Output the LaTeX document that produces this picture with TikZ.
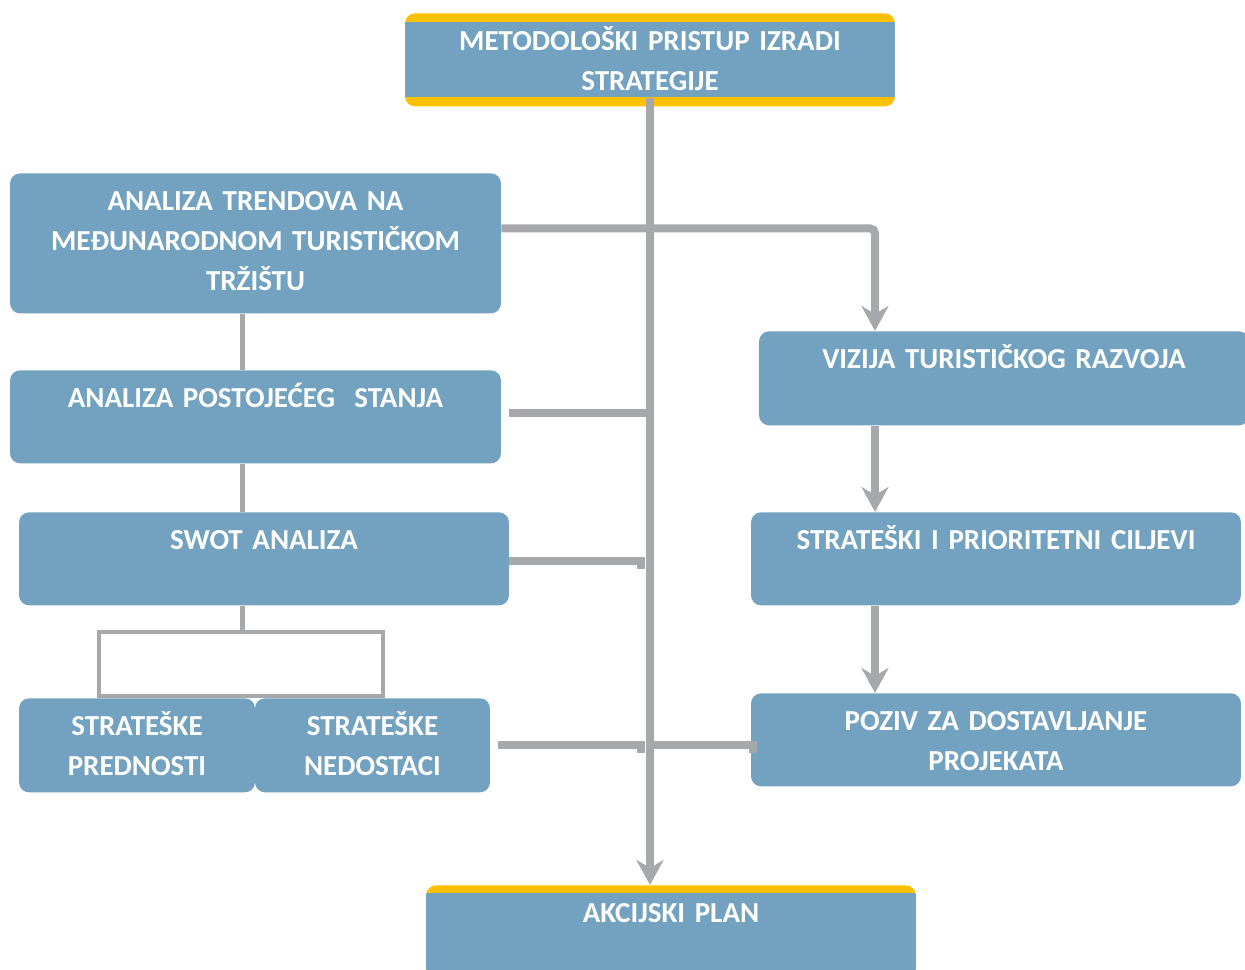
\documentclass[tikz,border=0pt]{standalone}
\usepackage{fontspec}
\setmainfont{Carlito}
\usetikzlibrary{arrows.meta}

\definecolor{boxblue}{HTML}{72A2C0}
\definecolor{boxyellow}{HTML}{FFC000}
\definecolor{lgray}{HTML}{A7A8AC}

\tikzset{
  box/.style={fill=boxblue, rounded corners=0.2cm, anchor=north, align=center,
    text=white, font=\bfseries\fontsize{16.5}{22.8}\selectfont,
    inner xsep=0.1cm, inner ysep=0.34cm, text height=0.4cm, text depth=0.78cm},
  goldbox/.style={box, fill=boxyellow},
  conn/.style={draw=lgray, line width=0.16cm},
  thinconn/.style={draw=lgray, line width=0.1cm},
  bracket/.style={draw=lgray, line width=0.08cm, minimum width=5.68cm,
    minimum height=1.28cm, anchor=south, inner sep=0pt},
}

\begin{document}
\begin{tikzpicture}[x=0.02cm,y=-0.02cm,
    >={Stealth[length=0.5cm,width=0.54cm,inset=0.16cm]}]
  \useasboundingbox (0,0) rectangle (1245,970);

  % ------ boxes ---------------
  \node[goldbox, minimum width=9.8cm, text width=9.6cm,
    path picture={\fill[boxblue, sharp corners] ([yshift=-0.18cm]path picture bounding box.north west)
      rectangle ([yshift=0.18cm]path picture bounding box.south east);}]
    (top) at (650,13) {METODOLOŠKI PRISTUP IZRADI\\STRATEGIJE};

  \node[box, minimum width=9.82cm, text width=9.6cm, text depth=1.72cm]
    (trend) at (255.5,173) {ANALIZA TRENDOVA NA\\MEĐUNARODNOM TURISTIČKOM\\TRŽIŠTU};
  \node[box, minimum width=9.82cm, text width=9.6cm] (post) at (255.5,370)
    {ANALIZA POSTOJEĆEG~ STANJA};
  \node[box, minimum width=9.8cm, text width=9.6cm] (swot) at (264,512) {SWOT ANALIZA};
  \node[box, minimum width=4.72cm, text width=4.5cm, text depth=0.8cm] (pred) at (137,698)
    {STRATEŠKE\\PREDNOSTI};
  \node[box, minimum width=4.7cm, text width=4.5cm, text depth=0.8cm] (ned) at (372.5,698)
    {STRATEŠKE\\NEDOSTACI};

  \node[box, minimum width=9.8cm, text width=9.6cm, text depth=0.8cm] (viz) at (1004,331)
    {VIZIJA TURISTIČKOG RAZVOJA};
  \node[box, minimum width=9.8cm, text width=9.6cm] (cilj) at (996,512)
    {STRATEŠKI I PRIORITETNI CILJEVI};
  \node[box, minimum width=9.8cm, text width=9.6cm] (poziv) at (996,693)
    {POZIV ZA DOSTAVLJANJE\\PROJEKATA};

  \node[goldbox, minimum width=9.8cm, text width=9.6cm,
    path picture={\fill[boxblue, sharp corners] ([yshift=-0.16cm]path picture bounding box.north west)
      rectangle (path picture bounding box.south east);}]
    (akc) at (671,885) {AKCIJSKI PLAN};

  \node[bracket] (br) at (241,698) {};

  % ------ connectors ---------------
  \coordinate (lx) at (242,0);
  \coordinate (rx) at (875,0);
  \coordinate (hk) at (641,0);

  \draw[conn, ->, shorten <=-0.18cm] (top.south) -- (top.south |- akc.north);
  \draw[conn, ->, rounded corners=0.1cm] ([yshift=0.3cm]trend.east) -| (rx |- viz.north);
  \draw[conn, ->] (rx |- viz.south) -- (rx |- cilj.north);
  \draw[conn, ->] (rx |- cilj.south) -- (rx |- poziv.north);

  \draw[conn, shorten <=0.16cm] ([yshift=0.07cm]post.east) -- ([yshift=0.07cm]post.east -| top.south);
  \draw[conn] ([yshift=-0.04cm]swot.east) -- ([yshift=-0.04cm]swot.east -| hk) -- ++(0,-0.16cm);
  \draw[conn, shorten <=0.16cm] (ned.east) -- (ned.east -| hk) -- ++(0,-0.16cm);
  \draw[conn] (top.south |- ned.east) -- ([xshift=0.04cm]poziv.west |- ned.east) -- ++(0,-0.16cm);

  \draw[thinconn] (lx |- trend.south) -- (lx |- post.north);
  \draw[thinconn] (lx |- post.south) -- (lx |- swot.north);
  \draw[thinconn] (lx |- swot.south) -- (lx |- br.north);
\end{tikzpicture}
\end{document}
